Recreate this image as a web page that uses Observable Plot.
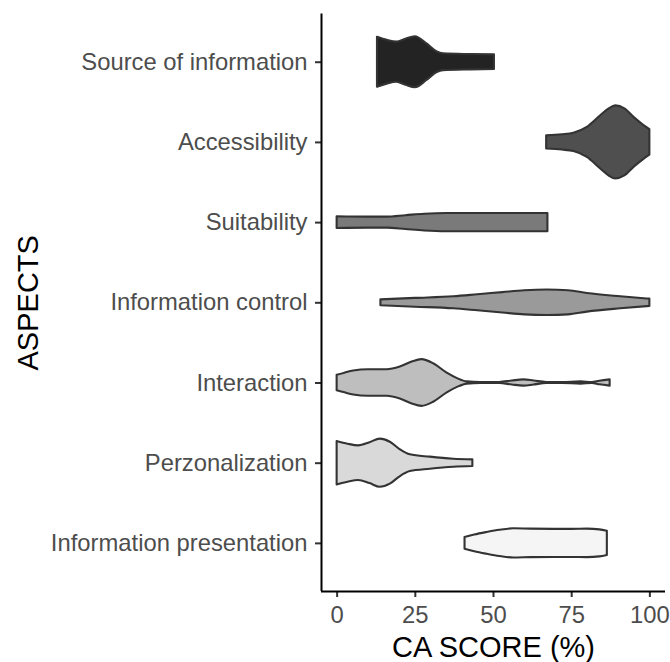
<!DOCTYPE html>
<html><head><meta charset="utf-8">
<script src="https://cdn.jsdelivr.net/npm/d3@7"></script>
<script src="https://cdn.jsdelivr.net/npm/@observablehq/plot@0.6"></script>
<style>body{margin:0;background:#fff}</style>
</head><body><div id="chart"></div>
<script>
const aspects = ["Source of information","Accessibility","Suitability","Information control","Interaction","Perzonalization","Information presentation"];
const fills = ["#232323","#4f4f4f","#7a7a7a","#9a9a9a","#bebebe","#d9d9d9","#f5f5f5"];
const xTicks = [0,25,50,75,100];
// [score, relative density]
const sourceOfInformation = [[12.9,0.685],[16,0.60],[19.1,0.55],[22,0.63],[25,0.70],[28.7,0.50],[32,0.28],[34,0.23],[42.6,0.21],[50.3,0.20]];
const accessibility = [[67,0.18],[72,0.21],[75.7,0.25],[80,0.41],[84.3,0.73],[87,0.92],[89.1,1.0],[92,0.92],[95,0.68],[98,0.47],[100,0.35]];
const suitability = [[0,0.16],[10,0.15],[16,0.15],[22,0.19],[28,0.23],[35,0.25],[50,0.25],[67.4,0.25]];
const informationControl = [[14,0.08],[25,0.12],[37.3,0.165],[45,0.22],[53,0.28],[60,0.33],[67.2,0.35],[74,0.33],[80,0.255],[90.7,0.165],[100,0.10]];
const interaction = [[0,0.21],[2.5,0.27],[5.3,0.33],[10,0.365],[16,0.365],[20.2,0.44],[24,0.575],[27.1,0.64],[31,0.52],[35.2,0.27],[38.5,0.12],[41.6,0.03],[46,0.01],[52,0.015],[56,0.055],[59.7,0.085],[63,0.055],[67,0.015],[72,0.012],[78,0.03],[81.6,0.01],[84,0.05],[87.3,0.085]];
const perzonalization = [[0,0.595],[3.5,0.52],[6.9,0.475],[10.5,0.56],[13.8,0.66],[17,0.575],[20,0.38],[23.4,0.23],[29.8,0.165],[37.3,0.11],[43.4,0.09]];
const informationPresentation = [[40.9,0.16],[44,0.23],[48,0.30],[52,0.36],[56.5,0.40],[62,0.39],[69.3,0.385],[75,0.385],[80,0.39],[84,0.37],[86.4,0.33]];

const violins = [sourceOfInformation, accessibility, suitability, informationControl, interaction, perzonalization, informationPresentation];
const rows = violins.flatMap((pts, i) => pts.map(([score, density]) => ({aspect: aspects[i], index: i, score, density})));
const maxHalf = 0.455;
const font = "'Liberation Sans', Arial, sans-serif";

const chart = Plot.plot({
  width: 670, height: 662,
  marginLeft: 321, marginRight: 5, marginTop: 13.6, marginBottom: 71,
  style: {fontFamily: font, background: "#fff"},
  x: {domain: [-5, 105]},
  y: {domain: [-0.6, 6.6], reverse: true},
  color: {type: "identity"},
  marks: [
    Plot.areaY(rows, {
      x: "score",
      y1: d => d.index - d.density * maxHalf,
      y2: d => d.index + d.density * maxHalf,
      z: "aspect",
      fill: d => fills[d.index],
      stroke: "#333333",
      strokeWidth: 2.1,
      strokeLinejoin: "round",
      curve: "monotone-x"
    }),
    Plot.axisY({ticks: d3.range(aspects.length), tickFormat: i => aspects[i], tickSize: 6, tickPadding: 8, fontSize: 23.8, stroke: "#333", strokeWidth: 2, fill: "#4d4d4d", label: null}),
    Plot.axisX({ticks: xTicks, tickFormat: d => String(d), tickSize: 6, tickPadding: 9, fontSize: 23.8, stroke: "#333", strokeWidth: 2, fill: "#4d4d4d", label: null}),
    Plot.ruleX([-5], {stroke: "#000", strokeWidth: 2}),
    Plot.ruleY([6.6], {stroke: "#000", strokeWidth: 2}),
    Plot.text(["CA SCORE (%)"], {frameAnchor: "bottom", text: d => d, dy: 65.5, textAnchor: "middle", lineAnchor: "bottom", fontSize: 29, fill: "#000"}),
    Plot.text(["ASPECTS"], {frameAnchor: "left", text: d => d, rotate: -90, dx: -284, textAnchor: "middle", lineAnchor: "bottom", fontSize: 29, fill: "#000"})
  ]
});
document.getElementById("chart").appendChild(chart);
</script>
</body></html>
